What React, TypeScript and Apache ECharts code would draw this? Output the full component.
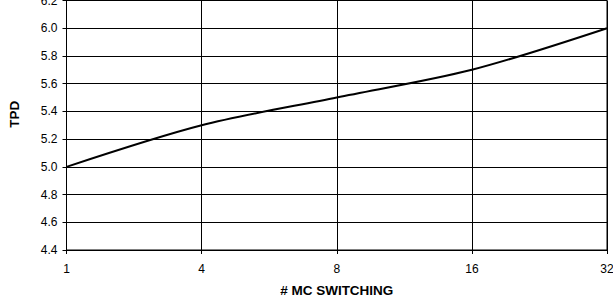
import React, { useEffect, useRef } from "react";
import * as echarts from "echarts";

const categories = ["1", "4", "8", "16", "32"];
const tpdValues = [5.0, 5.3, 5.5, 5.7, 6.0];
const yMin = 4.4;
const yMax = 6.2;
const yStep = 0.2;

export default function App() {
  const ref = useRef<HTMLDivElement>(null);
  useEffect(() => {
    document.body.style.margin = "0";
    const chart = echarts.init(ref.current!, null, { renderer: "svg" });
    const font = "'Liberation Sans', Arial, sans-serif";
    chart.setOption({
      animation: false,
      backgroundColor: "#ffffff",
      textStyle: { fontFamily: font },
      grid: {
        left: 66.5,
        right: 6,
        top: 0.5,
        bottom: 57,
        containLabel: false,
        outerBoundsMode: "none",
        show: true,
        borderColor: "#000",
        borderWidth: 1,
      },
      xAxis: {
        type: "category",
        data: categories,
        boundaryGap: false,
        name: "# MC SWITCHING",
        nameLocation: "middle",
        nameGap: 33,
        nameTextStyle: { fontFamily: font, fontSize: 13.5, fontWeight: "bold", color: "#000" },
        axisLine: { lineStyle: { color: "#000", width: 1 } },
        axisTick: { show: true, length: 4, lineStyle: { color: "#000" }, alignWithLabel: true },
        axisLabel: { fontFamily: font, fontSize: 12, color: "#000", margin: 13 },
        splitLine: { show: true, lineStyle: { color: "#000", width: 1 } },
      },
      yAxis: {
        type: "value",
        min: yMin,
        max: yMax,
        interval: yStep,
        name: "TPD",
        nameLocation: "middle",
        nameGap: 45,
        nameTextStyle: { fontFamily: font, fontSize: 13.5, fontWeight: "bold", color: "#000", padding: [0, 0, 0, 22] },
        axisLine: { show: true, lineStyle: { color: "#000", width: 1 } },
        axisTick: { show: true, length: 4, lineStyle: { color: "#000" } },
        axisLabel: { fontFamily: font, fontSize: 12, color: "#000", margin: 9, formatter: (v: number) => v.toFixed(1) },
        splitLine: { show: true, lineStyle: { color: "#000", width: 1 } },
      },
      series: [
        {
          type: "line",
          data: tpdValues,
          smooth: 0.3,
          showSymbol: false,
          lineStyle: { color: "#000", width: 2 },
        },
      ],
    });
    return () => chart.dispose();
  }, []);
  return <div ref={ref} style={{ width: 613, height: 307 }} />;
}
